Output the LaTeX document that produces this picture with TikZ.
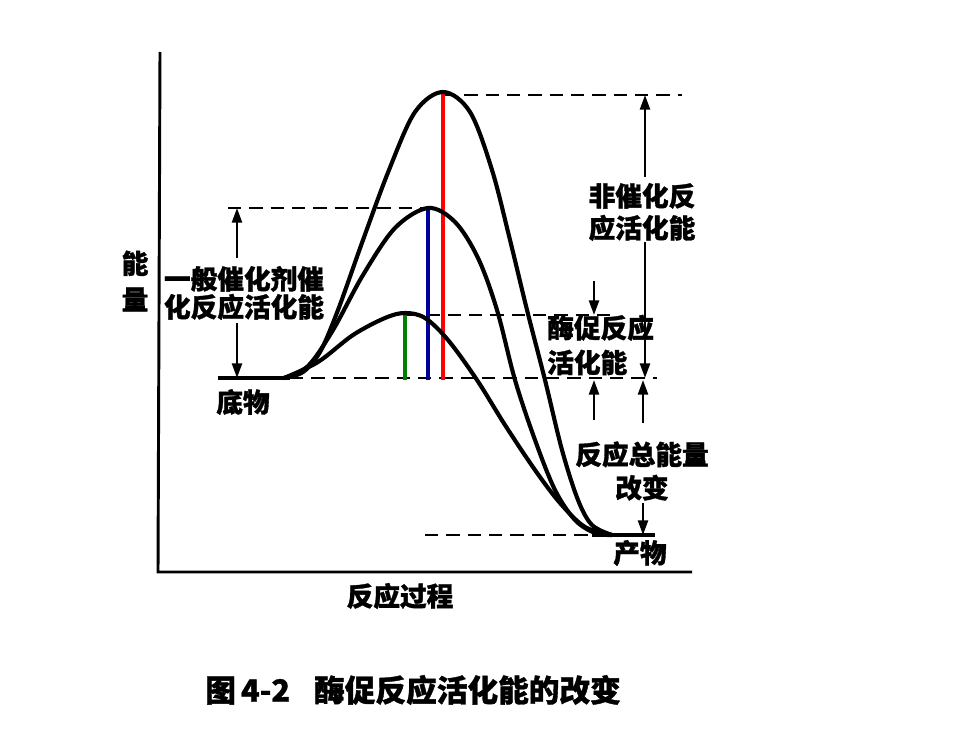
\documentclass[tikz,border=0pt]{standalone}
\usepackage{fontspec}
\newfontfamily\cjk[BoldFeatures={FakeBold=1.2}]{Noto Sans CJK SC}
\usetikzlibrary{arrows.meta}
\tikzset{
  axis/.style={line width=2.2pt},
  curve/.style={line width=3.1pt, line join=round, line cap=round},
  guide/.style={line width=2pt, dash pattern=on 10pt off 6pt},
  plateau/.style={line width=3.4pt},
  dimline/.style={line width=1.8pt, -{Triangle[length=11pt,width=7.5pt]}},
  lbl/.style={font=\cjk\bfseries\fontsize{20}{21}\selectfont, inner sep=0pt, align=center},
  bar/.style={line width=3pt},
}
\begin{document}
\begin{tikzpicture}[x=0.75pt,y=-0.75pt]
\useasboundingbox (0,0) rectangle (980,735);
% axes
\coordinate (O) at (158,572);
\coordinate (ytop) at (160,52);
\coordinate (xend) at (692,572);
\draw[axis] (ytop) -- (O) -- (xend);
% key levels
\coordinate (S1) at (218,378);
\coordinate (S2) at (290,378);
\coordinate (P1) at (592,535);
\coordinate (P2) at (655,535);
\draw[plateau] (S1) -- (S2);
\draw[plateau] (P1) -- (P2);
% guide lines
\coordinate (g1a) at (443,95);  \coordinate (g1b) at (682,95);
\coordinate (g2a) at (228,208); \coordinate (g2b) at (428,208);
\coordinate (g3a) at (405,315); \coordinate (g3b) at (612,315);
\coordinate (g4b) at (657,378);
\coordinate (g5a) at (425,535);
\draw[guide] (g1a) -- (g1b);
\draw[guide] (g2a) -- (g2b);
\draw[guide] (g3a) -- (g3b);
\draw[guide] (S2) -- (g4b);
\draw[guide] (g5a) -- (P1);
% coloured bars
\draw[bar, red]            (443,92)  -- (443,380);
\draw[bar, blue!60!black]  (428,208) -- (428,380);
\draw[bar, green!50!black] (405,315) -- (405,380);
% curves
\draw[curve] plot[smooth, tension=0.55] coordinates {(284,378) (303,372) (320,352) (338,310) (363,240) (389,170) (415,112) (443,92) (470,112) (492,170) (510,240) (527,310) (545,380) (562,450) (578,500) (592,525) (612,535)};
\draw[curve] plot[smooth, tension=0.55] coordinates {(284,378) (308,366) (333,330) (363,275) (395,228) (428,208) (455,222) (478,258) (497,310) (515,380) (535,440) (555,490) (575,520) (595,533) (612,535)};
\draw[curve] plot[smooth, tension=0.55] coordinates {(284,378) (318,362) (353,335) (385,318) (405,313) (425,318) (448,340) (477,380) (505,425) (535,470) (560,503) (585,527) (612,535)};
% labels
\node[lbl] (yl) at (135,281) {能\\[6pt]量};
\node[lbl] (gen) at (244,293) {一般催化剂催\\化反应活化能};
\node[lbl] (non) at (642,212) {非催化反\\[3pt]应活化能};
\node[lbl, align=left, anchor=west] (enz) at (547,345) {酶促反应\\[5pt]活化能};
\node[lbl] (tot) at (642,471) {反应总能量\\[4pt]改变};
\node[lbl] (sub) at (243,402) {底物};
\node[lbl] (prod) at (640,553) {产物};
\node[lbl] (xl) at (400,596) {反应过程};
\node[lbl, font=\cjk\bfseries\fontsize{23}{24}\selectfont, anchor=west] (cap) at (205,690) {图\,4-2\hspace{18pt}酶促反应活化能的改变};
% dimension arrows
\coordinate (a1) at (237,258); \coordinate (a1t) at (237,208);
\coordinate (a2) at (237,323); \coordinate (a2b) at (237,378);
\draw[dimline] (a1) -- (a1t);
\draw[dimline] (a2) -- (a2b);
\coordinate (b1) at (645,177); \coordinate (b1t) at (645,95);
\coordinate (b2) at (645,242); \coordinate (b2b) at (645,378);
\draw[dimline] (b1) -- (b1t);
\draw[dimline] (b2) -- (b2b);
\coordinate (c1) at (594,281); \coordinate (c1b) at (594,315);
\coordinate (c2) at (594,420); \coordinate (c2t) at (594,380);
\draw[dimline] (c1) -- (c1b);
\draw[dimline] (c2) -- (c2t);
\coordinate (d1) at (643,423); \coordinate (d1t) at (643,380);
\coordinate (d2) at (643,503); \coordinate (d2b) at (643,535);
\draw[dimline] (d1) -- (d1t);
\draw[dimline] (d2) -- (d2b);
\end{tikzpicture}
\end{document}
